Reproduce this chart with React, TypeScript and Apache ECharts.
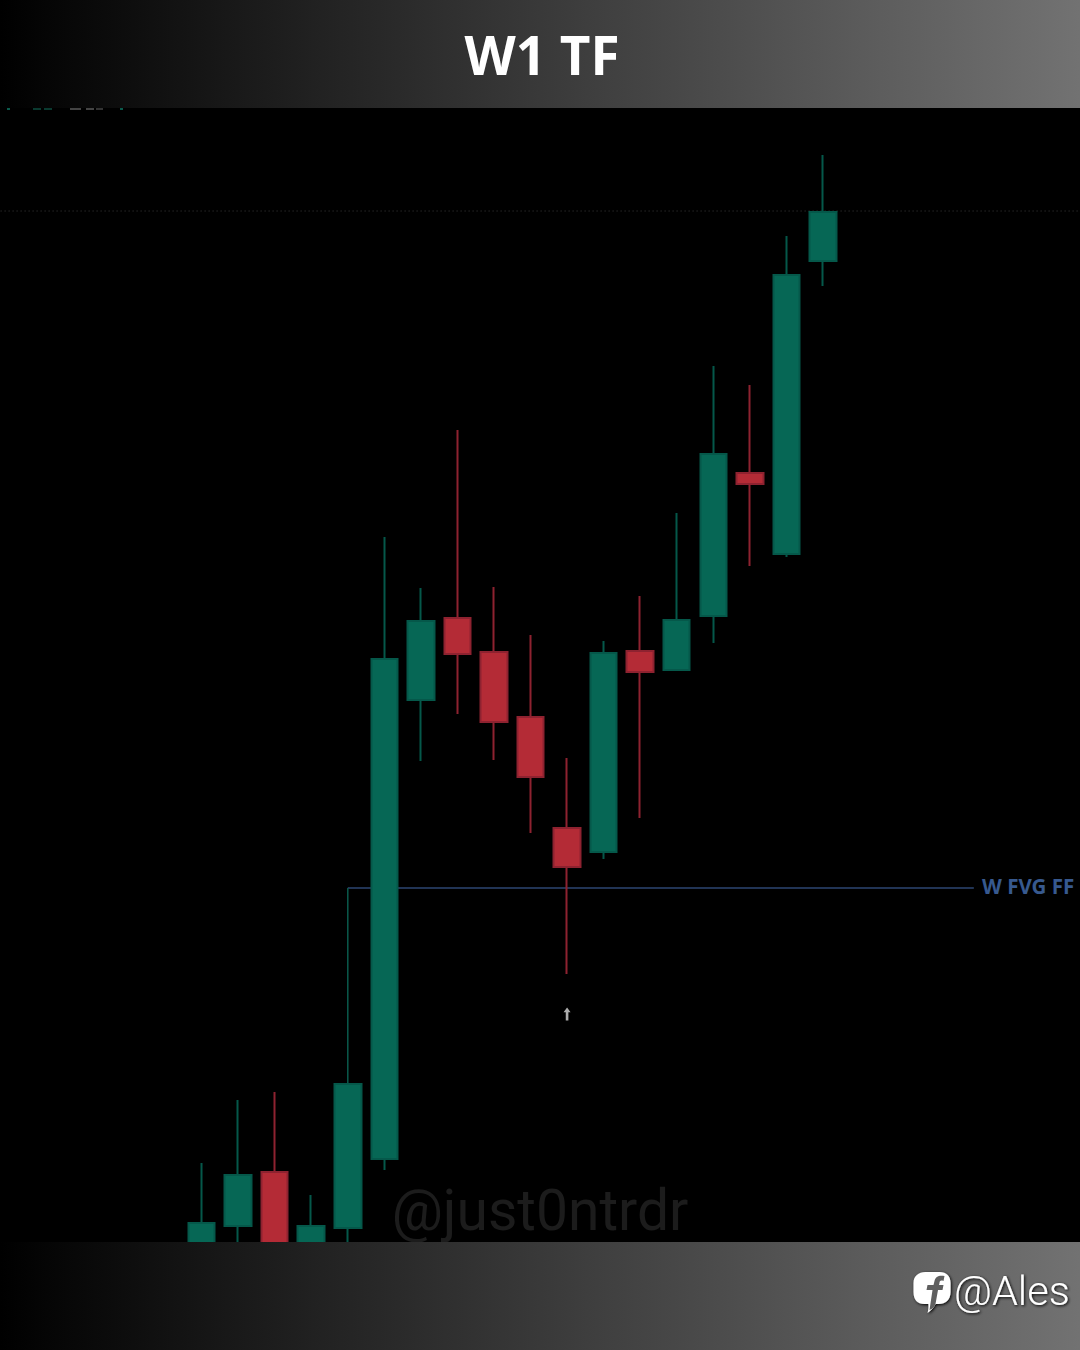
import React, { useEffect, useRef } from "react";
import * as echarts from "echarts";

const categories = Array.from({ length: 30 }, (_, i) => `W${i + 1}`);
const firstCandle = 5;
// [open, close, low, high]
const candles: number[][] = [
  [-20, 19, -33, 79],
  [16, 67, -8, 142],
  [70, -48, -58, 150],
  [-28, 16, -38, 47],
  [14, 158, -8, 158],
  [83, 583, 72, 705],
  [542, 621, 481, 654],
  [624, 588, 528, 812],
  [590, 520, 482, 655],
  [525, 465, 409, 607],
  [414, 375, 268, 484],
  [390, 589, 383, 601],
  [591, 570, 424, 646],
  [572, 622, 571, 729],
  [626, 788, 599, 876],
  [769, 758, 676, 857],
  [688, 967, 685, 1006],
  [981, 1030, 956, 1087],
];
const fvgLevel = [[9.5, 354], [26.63, 354]];
const fvgRise = [[9.5, 354], [9.5, 159]];
const dottedLevel = [[0, 1031], [30, 1031]];
const arrowMark = [[15.5, 228]];
const clippedLabelBits = [
  { x: 7, w: 3, c: "#0a5a4c" },
  { x: 33, w: 8, c: "#0a3a30" },
  { x: 44, w: 8, c: "#0a3a30" },
  { x: 70, w: 11, c: "#444444" },
  { x: 86, w: 8, c: "#444444" },
  { x: 96, w: 7, c: "#333333" },
  { x: 120, w: 3, c: "#0a5a4c" },
];

const GREEN = "#066755";
const RED = "#b42b36";
const GREEN_EDGE = "#05584a";
const RED_EDGE = "#8e2230";
const barGradient = () =>
  new echarts.graphic.LinearGradient(0, 0, 1, 0, [
    { offset: 0, color: "#000000" },
    { offset: 1, color: "#727272" },
  ]);

echarts.graphic.registerShape(
  "fbBubble",
  echarts.graphic.extendPath(
    "M12 0 H26 C33 0 37 4 37 11 V20 C37 28 32 32 25 32 H22 C20 36 17 39 14 41 C15 38 15 35 15 32 H11 C4 32 0 28 0 20 V11 C0 4 5 0 12 0 Z",
    {}
  ) as any
);
echarts.graphic.registerShape(
  "fbF",
  echarts.graphic.extendPath(
    "M16 38 L19 18 H13 L14 13 H20 L21 9 C22 4 26 3 31 4 L30 9 C27 8 26 9 26 11 L25.5 13 H30 L29 18 H24.5 L22 32 C21 35 19 37 16 38 Z",
    {}
  ) as any
);

export default function App() {
  const ref = useRef<HTMLDivElement>(null);
  useEffect(() => {
    document.body.style.margin = "0";
    document.body.style.background = "#000";
    document.body.style.overflow = "hidden";
    const chart = echarts.init(ref.current!, undefined, { renderer: "svg" });
    const lineBase = {
      type: "line" as const,
      xAxisIndex: 1,
      yAxisIndex: 1,
      showSymbol: false,
      silent: true,
      z: 1,
    };
    chart.setOption({
      animation: false,
      backgroundColor: "#000000",
      grid: { left: 0.6, top: 108, right: 0, bottom: 108, outerBoundsMode: "none" },
      tooltip: { show: false },
      xAxis: [
        { type: "category", data: categories, show: false },
        { type: "value", min: 0, max: 30, show: false },
      ],
      yAxis: [
        { type: "value", min: 0, max: 1134, show: false },
        { type: "value", min: 0, max: 1134, show: false },
      ],
      series: [
        {
          ...lineBase,
          data: dottedLevel,
          lineStyle: { color: "#3a3a3a", width: 1, type: [1, 3] },
        },
        { ...lineBase, data: fvgLevel, lineStyle: { color: "#2c4672", width: 1.5 } },
        { ...lineBase, data: fvgRise, lineStyle: { color: "#0a5a4c", width: 1.5 } },
        {
          type: "candlestick",
          xAxisIndex: 0,
          yAxisIndex: 0,
          z: 3,
          barWidth: 27,
          itemStyle: {
            color: GREEN,
            color0: RED,
            borderColor: GREEN_EDGE,
            borderColor0: RED_EDGE,
            borderWidth: 2,
          },
          data: candles.map((c, i) => [i + firstCandle, ...c]),
          encode: { x: 0, y: [1, 2, 3, 4] },
        },
        {
          type: "scatter",
          xAxisIndex: 1,
          yAxisIndex: 1,
          z: 4,
          silent: true,
          data: arrowMark,
          symbol: "path://M4 0 L8 5 H5.5 V14 H2.5 V5 H0 Z",
          symbolSize: [7, 13],
          itemStyle: { color: "#d8d8d8" },
        },
      ],
      graphic: [
        ...clippedLabelBits.map((b) => ({
          type: "rect", z: 50, shape: { x: b.x, y: 108, width: b.w, height: 2 }, style: { fill: b.c },
        })),
        { type: "rect", z: 100, shape: { x: 0, y: 0, width: 1080, height: 108 }, style: { fill: barGradient() } },
        { type: "rect", z: 100, shape: { x: 0, y: 1242, width: 1080, height: 108 }, style: { fill: barGradient() } },
        {
          type: "text", z: 101, x: 542, y: 54,
          style: { text: "W1 TF", fill: "#ffffff", font: "700 53px 'Open Sans'", textAlign: "center", textVerticalAlign: "middle" },
        },
        {
          type: "text", z: 50, x: 540, y: 1210,
          style: { text: "@just0ntrdr", fill: "#1c1c1c", font: "400 57px Roboto", textAlign: "center", textVerticalAlign: "middle" },
        },
        {
          type: "text", z: 50, x: 982, y: 886,
          style: { text: "W FVG FF", fill: "#37598f", font: "700 20.5px 'Noto Sans'", textAlign: "left", textVerticalAlign: "middle" },
        },
        {
          type: "fbBubble", z: 101, x: 913.5, y: 1272,
          style: { fill: "#ffffff", shadowBlur: 3, shadowColor: "#000000", shadowOffsetX: 1, shadowOffsetY: 1 },
        },
        { type: "fbF", z: 102, x: 913.5, y: 1272, style: { fill: "#5f5f5f" } },
        {
          type: "text", z: 101, x: 954, y: 1290,
          style: { text: "@Ales", fill: "#ffffff", font: "300 41.5px Roboto", textAlign: "left", textVerticalAlign: "middle", textShadowBlur: 3, textShadowColor: "#000000", textShadowOffsetX: 1, textShadowOffsetY: 1 },
        },
      ],
    });
    return () => chart.dispose();
  }, []);
  return <div ref={ref} style={{ width: 1096.8, height: 1350, overflow: "hidden" }} />;
}
